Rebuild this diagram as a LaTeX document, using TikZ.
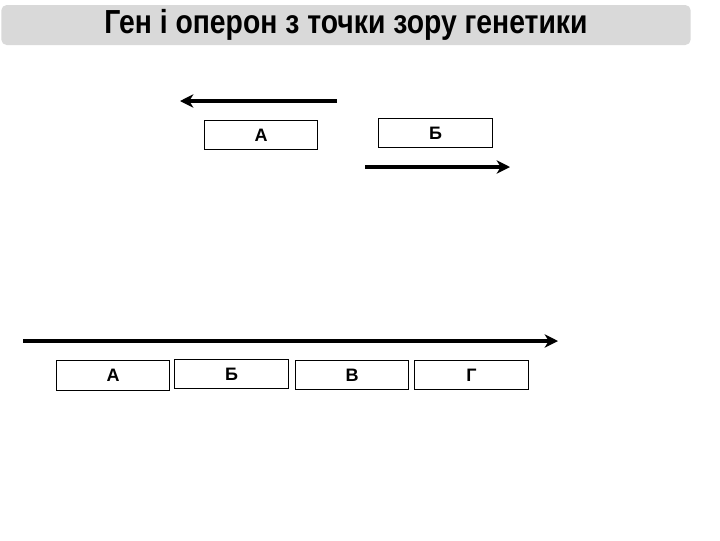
\documentclass[tikz,border=0pt]{standalone}
\usepackage{fontspec}
\setmainfont{Liberation Sans}
\newfontfamily\titlefont[FakeStretch=0.85]{Liberation Sans}
\usetikzlibrary{arrows.meta}
\begin{document}
\begin{tikzpicture}[x=0.75pt,y=-0.75pt,
  box/.style={draw=black, line width=0.8pt, minimum width=85pt, minimum height=22pt, inner sep=0pt, font=\bfseries\fontsize{13.5}{15}\selectfont},
  fatarrow/.style={line width=3pt, -{Stealth[length=10pt,width=10pt,inset=3pt]}}]
\useasboundingbox (0,0) rectangle (720,540);
\node[fill=black!15, rounded corners=4pt, minimum width=517pt, minimum height=30pt, inner sep=0pt,
  font=\titlefont\bfseries\fontsize{25}{28}\selectfont] (title) at (346,25) {Ген і оперон з точки зору генетики};
% top
\coordinate (t1s) at (337,101);
\coordinate (t1e) at (180,101);
\draw[fatarrow] (t1s) -- (t1e);
\node[box] (a1) at (261,135) {А};
\node[box] (b1) at (435.5,133) {Б};
\coordinate (t2s) at (365,167);
\coordinate (t2e) at (510,167);
\draw[fatarrow] (t2s) -- (t2e);
% bottom
\coordinate (bs) at (23,341);
\coordinate (be) at (558,341);
\draw[fatarrow] (bs) -- (be);
\node[box] (a2) at (113,375.5) {А};
\node[box] (b2) at (231.5,374) {Б};
\node[box] (v2) at (352,375) {В};
\node[box] (g2) at (471.5,375) {Г};
\end{tikzpicture}
\end{document}
